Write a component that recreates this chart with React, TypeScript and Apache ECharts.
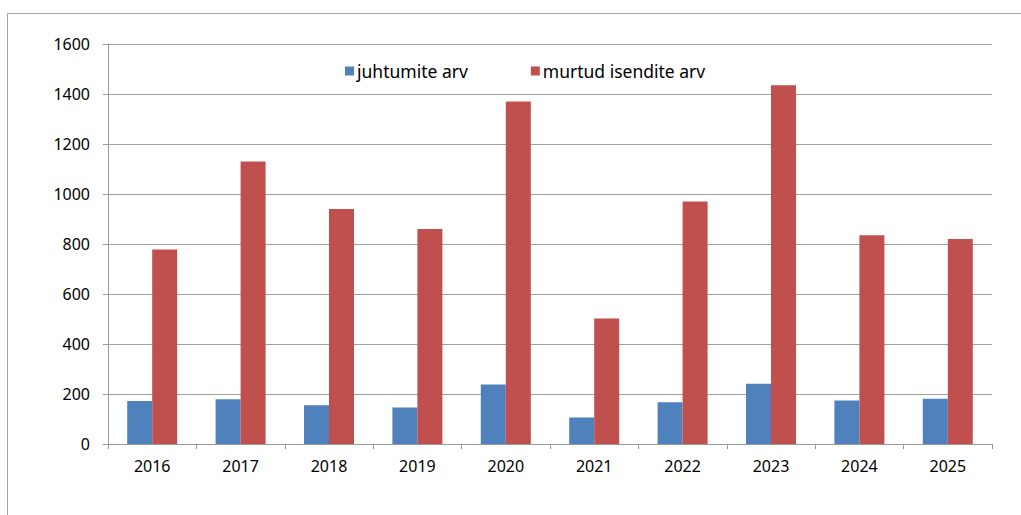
import React, { useEffect, useRef } from "react";
import * as echarts from "echarts";

const years = ["2016", "2017", "2018", "2019", "2020", "2021", "2022", "2023", "2024", "2025"];
const juhtumiteArv = [172, 179, 155, 146, 238, 106, 167, 241, 174, 181];
const murtudIsenditeArv = [778, 1130, 940, 860, 1370, 502, 970, 1435, 835, 820];
const seriesNames = ["juhtumite arv", "murtud isendite arv"];
const yTicks = { min: 0, max: 1600, interval: 200 };

const FONT = "Noto Sans";

export default function App() {
  const ref = useRef<HTMLDivElement>(null);
  useEffect(() => {
    if (!ref.current) return;
    const chart = echarts.init(ref.current, null, { renderer: "svg" });
    chart.setOption({
      animation: false,
      backgroundColor: "#ffffff",
      textStyle: { fontFamily: FONT },
      graphic: [
        {
          type: "polyline",
          shape: { points: [[7.5, 515], [7.5, 13.5], [1021, 13.5]] },
          style: { stroke: "#a6a6a6", lineWidth: 1, fill: "none" },
          silent: true,
        },
      ],
      legend: {
        left: 340,
        top: 57,
        itemWidth: 9,
        itemHeight: 9,
        itemGap: 63,
        icon: "rect",
        textStyle: { fontFamily: FONT, fontSize: 17.5, color: "#000", padding: [0, 0, 0, -2] },
        data: seriesNames,
      },
      grid: { left: 108, right: 29, top: 44, bottom: 71 },
      xAxis: {
        type: "category",
        data: years,
        axisLine: { lineStyle: { color: "#999999", width: 1 } },
        axisTick: { show: true, length: 5, alignWithLabel: false, lineStyle: { color: "#999999" } },
        axisLabel: { fontFamily: FONT, fontSize: 16, color: "#000", margin: 14 },
      },
      yAxis: {
        type: "value",
        min: yTicks.min,
        max: yTicks.max,
        interval: yTicks.interval,
        axisLine: { show: true, lineStyle: { color: "#999999", width: 1 } },
        axisTick: { show: true, length: 5, lineStyle: { color: "#999999" } },
        splitLine: { lineStyle: { color: "#a0a0a0", width: 1 } },
        axisLabel: {
          fontFamily: FONT,
          fontSize: 16,
          color: "#000",
          margin: 18,
          formatter: (v: number) => String(v),
        },
      },
      series: [
        {
          name: seriesNames[0],
          type: "bar",
          data: juhtumiteArv,
          barWidth: 25,
          barGap: "0%",
          itemStyle: { color: "#4F81BD" },
        },
        {
          name: seriesNames[1],
          type: "bar",
          data: murtudIsenditeArv,
          barWidth: 25,
          barGap: "0%",
          itemStyle: { color: "#C0504D" },
        },
      ],
    });
    return () => chart.dispose();
  }, []);
  return (
    <div
      ref={ref}
      style={{ position: "fixed", left: 0, top: 0, width: 1021, height: 515 }}
    />
  );
}
